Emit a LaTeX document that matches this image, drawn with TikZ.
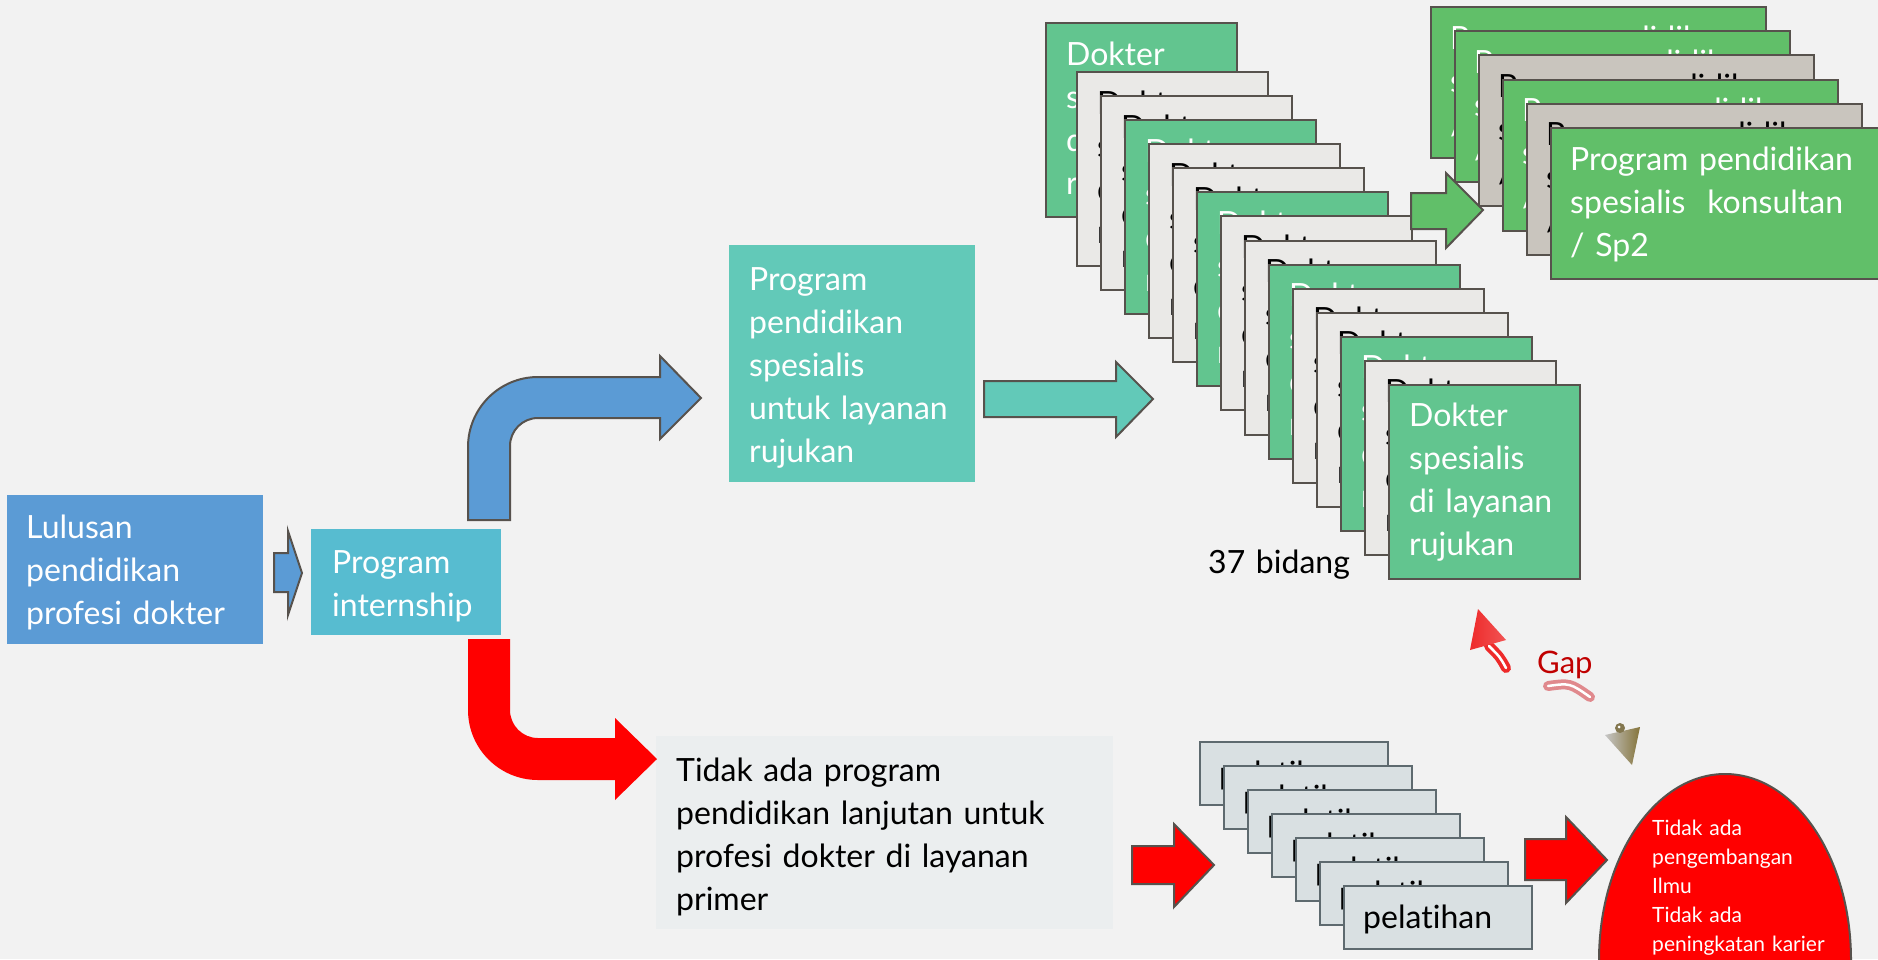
\documentclass[tikz,border=0pt]{standalone}
\usepackage{fontspec}
\setmainfont{Lato}[Ligatures={NoCommon,NoRequired,NoContextual}]
\usetikzlibrary{shapes.geometric}
\definecolor{bg}{HTML}{F2F2F2}
\definecolor{lblue}{HTML}{5B9BD5}
\definecolor{intern}{HTML}{57BCD0}
\definecolor{spteal}{HTML}{62C9B8}
\definecolor{dgreen}{HTML}{62C58F}
\definecolor{dgray}{HTML}{EAE9E7}
\definecolor{kgreen}{HTML}{61BF69}
\definecolor{kgray}{HTML}{C9C5BE}
\definecolor{pgray}{HTML}{D9E0E2}
\definecolor{pborder}{HTML}{5E6A6F}
\definecolor{edgec}{HTML}{57524D}
\definecolor{tgray}{HTML}{EBEEEF}
\definecolor{gapred}{HTML}{C00000}
\definecolor{olivec}{HTML}{85743A}
\definecolor{gaparrow}{HTML}{EE2A2A}
\definecolor{gappink}{HTML}{E0898D}
\begin{document}
\begin{tikzpicture}[x=1pt,y=-1pt,
  panel/.style={rectangle, inner sep=0pt, anchor=north west, draw=none},
  card/.style={rectangle, inner sep=0pt, anchor=north west, draw=edgec, line width=2pt},
  txt/.style={anchor=base west, inner sep=0pt, align=left, text width=400pt, font=\fontsize{32}{43}\selectfont},
  smalltxt/.style={anchor=base west, inner sep=0pt, align=left, text width=300pt, font=\fontsize{21}{29}\selectfont},
  blockarrow/.style={draw=edgec, line width=2pt, line join=miter},
]
\useasboundingbox (0,0) rectangle (1878,959);
\fill[bg] (0,0) rectangle (1878,959);

% left boxes
\node[panel, fill=lblue, minimum width=256pt, minimum height=149pt] (lulus) at (7,495) {};
\node[txt, text=white] (lulustxt) at ([shift={(19,43)}]lulus.north west) {Lulusan\\pendidikan\\profesi dokter};

\node[panel, fill=intern, minimum width=190pt, minimum height=106pt] (intern) at (311,529) {};
\node[txt, text=white] (interntxt) at ([shift={(21,44)}]intern.north west) {Program\\internship};

\node[panel, fill=spteal, minimum width=246pt, minimum height=237pt] (spes) at (729,245) {};
\node[txt, text=white] (spestxt) at ([shift={(20,45)}]spes.north west) {Program\\pendidikan\\spesialis\\untuk layanan\\rujukan};

\node[panel, fill=tgray, minimum width=457pt, minimum height=193pt] (tidak) at (656,736) {};
\node[txt, text=black] (tidaktxt) at ([shift={(20,45)}]tidak.north west) {Tidak ada program\\pendidikan lanjutan untuk\\profesi dokter di layanan\\primer};

% arrows on the left
\draw[blockarrow, fill=lblue] (274,553) -- (288,553) -- (288,531) -- (302,573) -- (288,615) -- (288,592) -- (274,592) -- cycle;

\draw[blockarrow, fill=lblue] (468,520) -- (468,447) arc[start angle=180, end angle=270, radius=70] -- (660,377) -- (660,356) -- (701,398) -- (660,439) -- (660,418) -- (538,418) arc[start angle=270, end angle=180, radius=28] -- (510,520) -- cycle;

\fill[red] (468,639) -- (468,710) arc[start angle=180, end angle=90, radius=70] -- (615,780) -- (615,800) -- (657,759) -- (615,718) -- (615,738) -- (538,738) arc[start angle=90, end angle=180, radius=28] -- (510,639) -- cycle;

\draw[blockarrow, fill=spteal] (984,381) -- (1116,381) -- (1116,362) -- (1153,399) -- (1116,437) -- (1116,417) -- (984,417) -- cycle;

% Dokter spesialis stack
\node[card, fill=dgreen, minimum width=191pt, minimum height=194pt] (dok0) at (1045,22) {};
\node[txt, text=white] (doktxt0) at ([shift={(21,43)}]dok0.north west) {Dokter\\spesialis\\di layanan\\rujukan};
\foreach \i/\f/\tc in {1/dgray/black,2/dgray/black,3/dgreen/white,4/dgray/black,5/dgray/black,6/dgreen/white,7/dgray/black,8/dgray/black,9/dgreen/white,10/dgray/black,11/dgray/black,12/dgreen/white,13/dgray/black,14/dgreen/white}{
  \node[card, fill=\f, minimum width=191pt, minimum height=194pt] (dok\i) at ({1052+24*\i},{47+24.07*\i}) {};
  \node[txt, text=\tc] (doktxt\i) at ([shift={(21,43)}]dok\i.north west) {Dokter\\spesialis\\di layanan\\rujukan};
}
\node[txt, text=black] (bidang) at (1208,573) {37 bidang};

% Sp2 stack
\foreach \i/\f/\tc in {0/kgreen/white,1/kgreen/white,2/kgray/black,3/kgreen/white,4/kgray/black,5/kgreen/white}{
  \node[card, fill=\f, minimum width=335pt, minimum height=151pt] (sp\i) at ({1430+24*\i},{6+24.2*\i}) {};
  \node[txt, text=\tc] (sptxt\i) at ([shift={(20,43)}]sp\i.north west) {Program pendidikan\\spesialis\hspace{0.35em} konsultan\\/ Sp2};
}
\draw[blockarrow, fill=kgreen] (1411,193) -- (1446,193) -- (1446,173) -- (1483,210) -- (1446,248) -- (1446,229) -- (1411,229) -- cycle;

% pelatihan stack
\foreach \i in {0,...,6}{
  \node[card, draw=pborder, fill=pgray, minimum width=188pt, minimum height=63pt] (pel\i) at ({1199+24*\i},{741+24*\i}) {};
  \node[txt, text=black] (peltxt\i) at ([shift={(20,43)}]pel\i.north west) {pelatihan};
}

\draw[blockarrow, fill=red] (1132,846) -- (1174,846) -- (1174,824) -- (1214,865) -- (1174,907) -- (1174,884) -- (1132,884) -- cycle;
\draw[blockarrow, fill=red] (1525,839) -- (1566,839) -- (1566,817) -- (1607,860) -- (1566,903) -- (1566,880) -- (1525,880) -- cycle;

% result ellipse
\begin{scope}
\clip (0,0) rectangle (1878,959);
\node[ellipse, draw=edgec, line width=2pt, fill=red, minimum width=252pt, minimum height=372pt, inner sep=0pt] (res) at (1725,960) {};
\end{scope}
\node[smalltxt, text=white] (restxt) at (1652,835) {Tidak ada\\pengembangan\\Ilmu\\Tidak ada\\peningkatan karier};

% Gap annotation
\node[anchor=base west, inner sep=0pt, text=gapred, font=\fontsize{31}{36}\selectfont] (gap) at (1537,673) {Gap};
\draw[gaparrow, line width=10pt, line cap=round] (1506,668) .. controls (1500,657) .. (1489,646);
\draw[white, line width=2.5pt, line cap=round] (1506,668) .. controls (1500,657) .. (1489,646);
\shade[left color=gaparrow, right color=gaparrow!80!white] (1478,609) -- (1470,650) -- (1506,640) -- cycle;
\draw[gappink, line width=10pt, line cap=round] (1548,686) .. controls (1570,683) .. (1590,697);
\draw[white, line width=2.5pt, line cap=round] (1548,686) .. controls (1570,683) .. (1590,697);
\shade[left color=gray!45, right color=olivec] (1605,735) -- (1640,727) -- (1632,765) -- cycle;
\fill[olivec!70!gray] (1620,728) circle[radius=5];
\fill[white] (1619,727) circle[radius=1.5];
\end{tikzpicture}
\end{document}
